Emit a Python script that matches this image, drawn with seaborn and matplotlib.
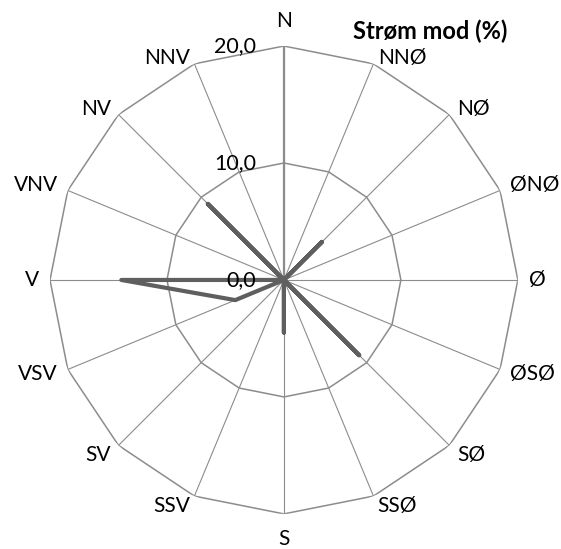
import numpy as np
import pandas as pd
import matplotlib
matplotlib.use("Agg")
import matplotlib.pyplot as plt
import seaborn as sns

# compass directions, clockwise from north
directions = ["N", "NNØ", "NØ", "ØNØ", "Ø", "ØSØ", "SØ", "SSØ",
              "S", "SSV", "SV", "VSV", "V", "VNV", "NV", "NNV"]
# current toward (%) per direction
values = [0.0, 0.0, 4.6, 0.0, 0.0, 0.0, 9.1, 0.0,
          4.5, 0.0, 0.0, 4.5, 13.9, 0.0, 9.2, 0.0]
ring_levels = [10.0, 20.0]
tick_levels = [0.0, 10.0, 20.0]
tick_labels = ["0,0", "10,0", "20,0"]

sns.set_theme(style="white")
plt.rcParams["font.family"] = ["Lato", "DejaVu Sans"]

theta = np.linspace(0, 2 * np.pi, len(directions), endpoint=False)
df = pd.DataFrame({
    "theta": np.append(theta, theta[0]),
    "value": values + values[:1],
})

fig = plt.figure(figsize=(5.61, 5.49), dpi=100)
ax = fig.add_axes([0.0891, 0.0638, 0.834, 0.8525], projection="polar")
ax.set_theta_zero_location("N")
ax.set_theta_direction(-1)
ax.set_ylim(0, 20)
ax.grid(False)
ax.spines["polar"].set_visible(False)
ax.set_yticks([])
ax.set_xticks([])

# spokes
for t in theta:
    ax.plot([t, t], [0, 20], color="#8c8c8c", lw=0.8, zorder=1)
# value axis along N
ax.plot([0, 0], [0, 20], color="#8c8c8c", lw=1.6, zorder=1)
# polygon rings
closed = np.append(theta, theta[0])
for lvl in ring_levels:
    ax.plot(closed, [lvl] * len(closed), color="#8c8c8c", lw=1.1, zorder=1)

sns.lineplot(data=df, x="theta", y="value", sort=False, ax=ax,
             color="#5f5f5f", lw=3, zorder=3)

for lvl, lab in zip(tick_levels, tick_labels):
    ax.annotate(lab, xy=(0, lvl), xytext=(-20, 0), textcoords="offset points",
                ha="right", va="center", fontsize=15.5, color="black")

# direction labels placed next to the outer ring corners (Excel style)
for t, lab in zip(theta, directions):
    s, c = np.sin(t), np.cos(t)
    dx = 11 * s
    dy = 0
    if abs(s) < 0.1:
        ha = "center"
        va = "baseline" if c > 0 else "top"
        dy = 19 if c > 0 else -15
    else:
        ha = "left" if s > 0 else "right"
        if c > 0.5:
            va = "baseline"
        elif c < -0.5:
            va = "top"
        else:
            va = "center"
            dy = 5 * np.sign(c) if abs(c) > 0.1 else 0
    ax.annotate(lab, xy=(t, 20), xytext=(dx, dy), textcoords="offset pixels",
                ha=ha, va=va, fontsize=15, color="black", annotation_clip=False)

ax.set_xlabel("")
ax.set_ylabel("")

fig.text(0.766, 0.943, "Strøm mod (%)", fontsize=17, fontweight="bold",
         ha="center", va="center", color="black")

fig.savefig("out.png", dpi=100)
